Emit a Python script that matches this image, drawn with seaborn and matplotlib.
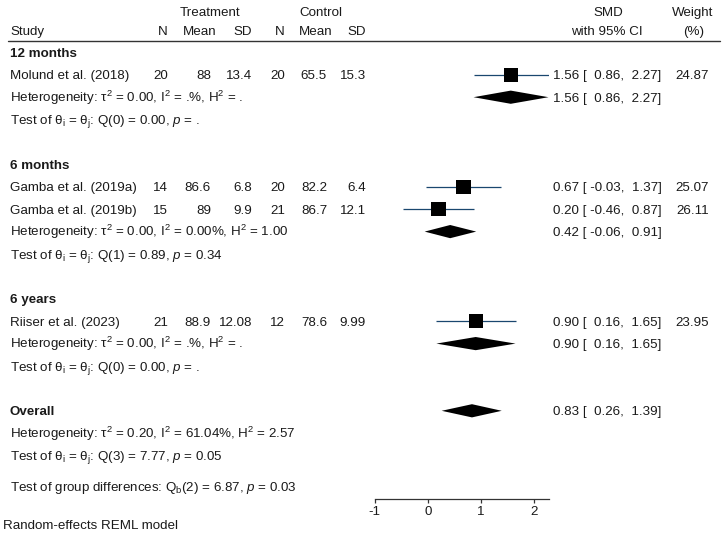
import matplotlib
matplotlib.use("Agg")
import matplotlib.pyplot as plt
import seaborn as sns
import pandas as pd

# ---------------- data ----------------
studies = ["Molund et al. (2018)", "Gamba et al. (2019a)", "Gamba et al. (2019b)", "Riiser et al. (2023)"]
study_group = ["12 months", "6 months", "6 months", "6 years"]
t_n = [20, 14, 15, 21]
t_mean = ["88", "86.6", "89", "88.9"]
t_sd = ["13.4", "6.8", "9.9", "12.08"]
c_n = [20, 20, 21, 12]
c_mean = ["65.5", "82.2", "86.7", "78.6"]
c_sd = ["15.3", "6.4", "12.1", "9.99"]
smd = [1.56, 0.67, 0.20, 0.90]
ci_lo = [0.86, -0.03, -0.46, 0.16]
ci_hi = [2.27, 1.37, 0.87, 1.65]
weight = [24.87, 25.07, 26.11, 23.95]

groups = ["12 months", "6 months", "6 years"]
group_smd = [1.56, 0.42, 0.90]
group_lo = [0.86, -0.06, 0.16]
group_hi = [2.27, 0.91, 1.65]
group_tau2 = ["0.00", "0.00", "0.00"]
group_i2 = [".%", "0.00%", ".%"]
group_h2 = [".", "1.00", "."]
group_qdf = [0, 1, 0]
group_q = ["0.00", "0.89", "0.00"]
group_p = [".", "0.34", "."]

overall_smd, overall_lo, overall_hi = 0.83, 0.26, 1.39
overall_tau2, overall_i2, overall_h2 = "0.20", "61.04%", "2.57"
overall_qdf, overall_q, overall_p = 3, "7.77", "0.05"
diff_df, diff_q, diff_p = 2, "6.87", "0.03"

xticks = [-1, 0, 1, 2]

# ---------------- style ----------------
sns.set_theme(style="white")
plt.rcParams["font.family"] = ["Liberation Sans", "DejaVu Sans"]
plt.rcParams["mathtext.fontset"] = "custom"
plt.rcParams["mathtext.rm"] = "Liberation Sans"
plt.rcParams["mathtext.it"] = "Liberation Sans:italic"
plt.rcParams["mathtext.bf"] = "Liberation Sans:bold"

W, H = 724, 544
FS = 9.6
TXT = "#1a1a1a"
fig = plt.figure(figsize=(W / 100, H / 100), dpi=100)

ax_t = fig.add_axes([0, 0, 1, 1])
ax_t.set_xlim(0, W)
ax_t.set_ylim(H, 0)
ax_t.axis("off")

AX_Y = 498.5
x_left_px, x_right_px = 374.7, 548.5
ax_p = fig.add_axes([x_left_px / W, (H - AX_Y) / H, (x_right_px - x_left_px) / W, AX_Y / H])
ax_p.set_facecolor("none")
ax_p.set_ylim(AX_Y, 0)
ax_p.set_xlim(-1, max(ci_hi))

OFF = 4.6  # baseline offset from row center (px)


def put(x, y, s, ha="left", bold=False):
    ax_t.text(x, y + OFF, s, ha=ha, va="baseline", fontsize=FS, color=TXT,
              fontweight="bold" if bold else "normal")


STEP = 22.4
Y0 = 30.0


def ry(r):
    return Y0 + STEP * r


# column positions
X_STUDY = 10
X_TN, X_TM, X_TS = 168, 211, 252
X_CN, X_CM, X_CS = 285, 327, 366
X_EFF = 553
X_WT = 709

# header
put(210, 11.5, "Treatment", ha="center")
put(321, 11.5, "Control", ha="center")
put(608, 11.5, "SMD", ha="center")
put(693, 11.5, "Weight", ha="center")
put(X_STUDY, Y0, "Study")
put(X_TN, Y0, "N", ha="right")
put(217, Y0, "Mean", ha="right")
put(X_TS, Y0, "SD", ha="right")
put(X_CN, Y0, "N", ha="right")
put(332, Y0, "Mean", ha="right")
put(X_CS, Y0, "SD", ha="right")
put(607, Y0, "with 95% CI", ha="center")
put(694, Y0, "(%)", ha="center")
ax_t.plot([8, 720], [41, 41], color="#333333", lw=1.0)


def fmt_ci(e, lo, hi):
    return f"{e:.2f} [{lo:6.2f},{hi:6.2f}]"


r = 1
study_rows = {}
group_rows = []
for gi, g in enumerate(groups):
    put(X_STUDY, ry(r), g, bold=True)
    r += 1
    for si, s in enumerate(studies):
        if study_group[si] != g:
            continue
        y = ry(r)
        study_rows[si] = y
        put(X_STUDY, y, s)
        put(X_TN, y, str(t_n[si]), ha="right")
        put(X_TM, y, t_mean[si], ha="right")
        put(X_TS, y, t_sd[si], ha="right")
        put(X_CN, y, str(c_n[si]), ha="right")
        put(X_CM, y, c_mean[si], ha="right")
        put(X_CS, y, c_sd[si], ha="right")
        put(X_EFF, y, fmt_ci(smd[si], ci_lo[si], ci_hi[si]))
        put(X_WT, y, f"{weight[si]:.2f}", ha="right")
        r += 1
    y = ry(r)
    group_rows.append(y)
    put(X_STUDY, y, f"Heterogeneity: τ$^2$ = {group_tau2[gi]}, I$^2$ = {group_i2[gi]}, H$^2$ = {group_h2[gi]}")
    put(X_EFF, y, fmt_ci(group_smd[gi], group_lo[gi], group_hi[gi]))
    r += 1
    put(X_STUDY, ry(r), f"Test of θ$_\\mathrm{{i}}$ = θ$_\\mathrm{{j}}$: Q({group_qdf[gi]}) = {group_q[gi]}, $p$ = {group_p[gi]}")
    r += 2

y_over = ry(r)
put(X_STUDY, y_over, "Overall", bold=True)
put(X_EFF, y_over, fmt_ci(overall_smd, overall_lo, overall_hi))
r += 1
put(X_STUDY, ry(r), f"Heterogeneity: τ$^2$ = {overall_tau2}, I$^2$ = {overall_i2}, H$^2$ = {overall_h2}")
r += 1
put(X_STUDY, ry(r), f"Test of θ$_\\mathrm{{i}}$ = θ$_\\mathrm{{j}}$: Q({overall_qdf}) = {overall_q}, $p$ = {overall_p}")
put(X_STUDY, 486, f"Test of group differences: Q$_\\mathrm{{b}}$({diff_df}) = {diff_q}, $p$ = {diff_p}")
put(3, 524, "Random-effects REML model")

# ---------------- forest marks ----------------
df = pd.DataFrame({
    "smd": smd, "lo": ci_lo, "hi": ci_hi, "weight": weight,
    "y": [study_rows[i] for i in range(len(studies))],
})
ax_p.hlines(df["y"], df["lo"], df["hi"], color="#1a476f", lw=0.9, zorder=2)
sns.scatterplot(data=df, x="smd", y="y", size="weight", sizes=(0, 26.11 * 4.1),
                size_norm=(0, 26.11), marker="s", color="black", linewidth=0,
                legend=False, ax=ax_p, zorder=3)

DH = 6.6
d_est = group_smd + [overall_smd]
d_lo = group_lo + [overall_lo]
d_hi = group_hi + [overall_hi]
d_y = group_rows + [y_over]
for e, lo, hi, y in zip(d_est, d_lo, d_hi, d_y):
    ax_p.fill([lo, e, hi, e], [y, y - DH, y, y + DH], color="black", lw=0, zorder=3)

ax_p.set_xlabel("")
ax_p.set_ylabel("")
ax_p.set_yticks([])
ax_p.set_xticks(xticks)
ax_p.set_xticklabels([str(t) for t in xticks])
for side in ["top", "left", "right"]:
    ax_p.spines[side].set_visible(False)
ax_p.spines["bottom"].set_color("#333333")
ax_p.spines["bottom"].set_linewidth(0.9)
ax_p.tick_params(axis="x", bottom=True, direction="out", length=3, width=0.9,
                 color="#333333", labelsize=FS, labelcolor=TXT, pad=2.5)

fig.savefig("out.png", dpi=100)
